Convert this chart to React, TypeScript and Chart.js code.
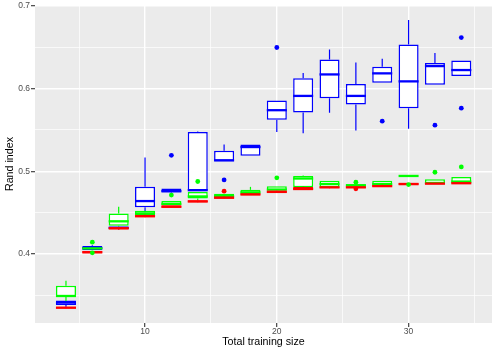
import React, { useEffect, useRef } from "react";
import { Chart, registerables } from "chart.js";

Chart.register(...registerables);

const trainingSizes = [4, 6, 8, 10, 12, 14, 16, 18, 20, 22, 24, 26, 28, 30, 32, 34];

const xTicks = [5, 10, 15, 20, 25, 30, 35];
const xTickLabels = ["", "10", "", "20", "", "30", ""];
const yTicks = [0.35, 0.4, 0.45, 0.5, 0.55, 0.6, 0.65, 0.7];
const yTickLabels = ["", "0.4", "", "0.5", "", "0.6", "", "0.7"];

const blueLow = [0.336, 0.4045, 0.4295, 0.4462, 0.471, 0.4763, 0.5117, 0.5189, 0.5474, 0.5461, 0.5707, 0.5494, 0.6072, 0.5514, 0.6048, 0.6153];
const blueQ1 = [0.3381, 0.4045, 0.4305, 0.4563, 0.4743, 0.4763, 0.5117, 0.5189, 0.5623, 0.5711, 0.5883, 0.5807, 0.6072, 0.5762, 0.6048, 0.6153];
const blueMedian = [0.341, 0.407, 0.4315, 0.4639, 0.4759, 0.4771, 0.5133, 0.5293, 0.5739, 0.5912, 0.6172, 0.5912, 0.6185, 0.6088, 0.6273, 0.6225];
const blueQ3 = [0.3434, 0.4096, 0.433, 0.4811, 0.4792, 0.5474, 0.5249, 0.5325, 0.5855, 0.6125, 0.6353, 0.6056, 0.6265, 0.6534, 0.631, 0.6341];
const blueHigh = [0.3434, 0.4105, 0.4335, 0.5165, 0.4792, 0.548, 0.5325, 0.5325, 0.5855, 0.6189, 0.6474, 0.6317, 0.6361, 0.6831, 0.643, 0.6341];

const greenLow = [0.343, 0.4058, 0.433, 0.4465, 0.4587, 0.465, 0.4678, 0.4723, 0.4771, 0.4807, 0.4807, 0.4813, 0.4828, 0.4943, 0.4847, 0.4852];
const greenQ1 = [0.3482, 0.4058, 0.4341, 0.447, 0.4587, 0.4671, 0.4678, 0.4723, 0.4771, 0.4807, 0.4807, 0.4813, 0.4828, 0.4941, 0.4847, 0.4852];
const greenMedian = [0.349, 0.4066, 0.4394, 0.449, 0.4605, 0.4695, 0.47, 0.4745, 0.4778, 0.4912, 0.4845, 0.483, 0.4845, 0.4943, 0.4858, 0.4875];
const greenQ3 = [0.3614, 0.4075, 0.449, 0.4522, 0.4639, 0.475, 0.4727, 0.4775, 0.4819, 0.4943, 0.4884, 0.4843, 0.4884, 0.4945, 0.4904, 0.4931];
const greenHigh = [0.3675, 0.4075, 0.457, 0.4525, 0.4639, 0.475, 0.4727, 0.4811, 0.4819, 0.4948, 0.4884, 0.4843, 0.4884, 0.4945, 0.4904, 0.4931];

const redLow = [0.3335, 0.4002, 0.429, 0.4442, 0.4555, 0.462, 0.4664, 0.4705, 0.4737, 0.4773, 0.4795, 0.4795, 0.4809, 0.4829, 0.4842, 0.4851];
const redQ1 = [0.3338, 0.4005, 0.4294, 0.4445, 0.4558, 0.4623, 0.4666, 0.4707, 0.4739, 0.4775, 0.4797, 0.4797, 0.4811, 0.4831, 0.4843, 0.4852];
const redMedian = [0.3348, 0.402, 0.431, 0.4455, 0.457, 0.4635, 0.468, 0.472, 0.475, 0.4785, 0.4805, 0.4805, 0.482, 0.4845, 0.485, 0.4855];
const redQ3 = [0.336, 0.4035, 0.4322, 0.4473, 0.4587, 0.465, 0.4695, 0.4731, 0.4767, 0.481, 0.4815, 0.4815, 0.4835, 0.486, 0.486, 0.486];
const redHigh = [0.3362, 0.4036, 0.4324, 0.4475, 0.4589, 0.4652, 0.4697, 0.4733, 0.4769, 0.4812, 0.4816, 0.4816, 0.4836, 0.4861, 0.4861, 0.4861];

const greenOutX = [6, 6, 12, 14, 20, 26, 30, 32, 34];
const greenOutY = [0.4141, 0.4012, 0.4711, 0.4876, 0.492, 0.4867, 0.4839, 0.4988, 0.5052];
const blueOutX = [12, 16, 20, 28, 32, 34, 34];
const blueOutY = [0.5193, 0.4895, 0.6498, 0.5606, 0.5558, 0.6618, 0.5763];
const redOutX = [16, 26];
const redOutY = [0.4759, 0.4787];

const RED = "#FF0000";
const GREEN = "#00FF00";
const BLUE = "#0000FF";
const FONT = "'Liberation Sans', Arial, Helvetica, sans-serif";

function makeStats(low: number[], q1: number[], med: number[], q3: number[], high: number[]) {
  return trainingSizes.map((x, i) => ({ x, low: low[i], q1: q1[i], median: med[i], q3: q3[i], high: high[i] }));
}

function boxDataset(label: string, color: string, stats: any[]) {
  return {
    type: "bar" as const,
    label,
    data: stats.map((s) => ({ x: s.x, y: [s.q1, s.q3] })),
    stats,
    backgroundColor: "#FFFFFF",
    borderColor: color,
    borderWidth: 1.5,
    borderSkipped: false,
    grouped: false,
    categoryPercentage: 1,
    barPercentage: 0.76,
    order: 1,
  };
}

function outlierDataset(label: string, color: string, xs: number[], ys: number[]) {
  return {
    type: "scatter" as const,
    label,
    data: xs.map((x, i) => ({ x, y: ys[i] })),
    pointRadius: 2.4,
    pointBorderWidth: 0,
    pointBackgroundColor: color,
    backgroundColor: color,
    borderColor: color,
    order: 0,
  };
}

const panelPlugin = {
  id: "panelBg",
  beforeDraw(chart: any) {
    const { ctx, chartArea } = chart;
    ctx.save();
    ctx.fillStyle = "#EBEBEB";
    ctx.fillRect(chartArea.left, chartArea.top, chartArea.right - chartArea.left, chartArea.bottom - chartArea.top);
    ctx.restore();
  },
};

const boxPartsPlugin = {
  id: "boxParts",
  beforeDatasetDraw(chart: any, args: any) {
    const ds: any = chart.data.datasets[args.index];
    if (!ds.stats) return;
    const { ctx } = chart;
    const xs = chart.scales.x;
    const ys = chart.scales.y;
    ctx.save();
    ctx.strokeStyle = ds.borderColor;
    ctx.lineWidth = 1.2;
    ds.stats.forEach((s: any) => {
      const px = xs.getPixelForValue(s.x);
      ctx.beginPath();
      ctx.moveTo(px, ys.getPixelForValue(s.q3));
      ctx.lineTo(px, ys.getPixelForValue(s.high));
      ctx.moveTo(px, ys.getPixelForValue(s.q1));
      ctx.lineTo(px, ys.getPixelForValue(s.low));
      ctx.stroke();
    });
    ctx.restore();
  },
  afterDatasetDraw(chart: any, args: any) {
    const ds: any = chart.data.datasets[args.index];
    if (!ds.stats) return;
    const { ctx } = chart;
    const ys = chart.scales.y;
    const els = args.meta.data;
    ctx.save();
    ctx.strokeStyle = ds.borderColor;
    ctx.lineWidth = 2.3;
    ds.stats.forEach((s: any, i: number) => {
      const el = els[i];
      const half = el.width / 2;
      const py = ys.getPixelForValue(s.median);
      ctx.beginPath();
      ctx.moveTo(el.x - half, py);
      ctx.lineTo(el.x + half, py);
      ctx.stroke();
    });
    ctx.restore();
  },
};

export default function App() {
  const canvasRef = useRef<HTMLCanvasElement | null>(null);

  useEffect(() => {
    const canvas = canvasRef.current;
    if (!canvas) return;
    const isMajorX = (v: number) => xTickLabels[xTicks.indexOf(v)] !== "" && xTicks.indexOf(v) >= 0;
    const isMajorY = (v: number) => {
      const i = yTicks.findIndex((t) => Math.abs(t - v) < 1e-9);
      return i >= 0 && yTickLabels[i] !== "";
    };
    const chart = new Chart(canvas, {
      type: "bar",
      data: {
        datasets: [
          boxDataset("red", RED, makeStats(redLow, redQ1, redMedian, redQ3, redHigh)),
          boxDataset("green", GREEN, makeStats(greenLow, greenQ1, greenMedian, greenQ3, greenHigh)),
          boxDataset("blue", BLUE, makeStats(blueLow, blueQ1, blueMedian, blueQ3, blueHigh)),
          outlierDataset("red outliers", RED, redOutX, redOutY),
          outlierDataset("green outliers", GREEN, greenOutX, greenOutY),
          outlierDataset("blue outliers", BLUE, blueOutX, blueOutY),
        ] as any,
      },
      options: {
        animation: false,
        responsive: false,
        maintainAspectRatio: false,
        layout: { padding: { left: 0, right: 6, top: 4, bottom: 0 } },
        plugins: { legend: { display: false }, tooltip: { enabled: false } },
        scales: {
          x: {
            type: "linear",
            min: 1.65,
            max: 36.33,
            offset: false,
            border: { display: false },
            grid: {
              offset: false,
              color: "#FFFFFF",
              lineWidth: (c: any) => (isMajorX(c.tick?.value) ? 1.4 : 0.7),
              tickColor: (c: any) => (isMajorX(c.tick?.value) ? "#333333" : "rgba(0,0,0,0)"),
              tickWidth: 1.1,
              tickLength: 4,
              drawTicks: true,
            },
            ticks: {
              autoSkip: false,
              maxRotation: 0,
              padding: 0,
              color: "#4D4D4D",
              font: { family: FONT, size: 8.5 },
              callback: (v: any) => {
                const i = xTicks.indexOf(Number(v));
                return i >= 0 ? xTickLabels[i] : "";
              },
            },
            title: {
              display: true,
              text: "Total training size",
              color: "#000000",
              font: { family: FONT, size: 10.7 },
              padding: { top: 0, bottom: 6.5 },
            },
            afterBuildTicks: (scale: any) => {
              scale.ticks = xTicks.map((v) => ({ value: v }));
            },
            afterFit: (scale: any) => {
              scale.height = 32;
            },
          },
          y: {
            type: "linear",
            min: 0.3163,
            max: 0.7012,
            border: { display: false },
            grid: {
              color: "#FFFFFF",
              lineWidth: (c: any) => (isMajorY(c.tick?.value) ? 1.4 : 0.7),
              tickColor: (c: any) => (isMajorY(c.tick?.value) ? "#333333" : "rgba(0,0,0,0)"),
              tickWidth: 1.1,
              tickLength: 4,
              drawTicks: true,
            },
            ticks: {
              autoSkip: false,
              padding: 1,
              color: "#4D4D4D",
              font: { family: FONT, size: 8.5, lineHeight: 0.95 },
              callback: (v: any) => {
                const i = yTicks.findIndex((t) => Math.abs(t - Number(v)) < 1e-9);
                return i >= 0 ? yTickLabels[i] : "";
              },
            },
            title: {
              display: true,
              text: "Rand index",
              color: "#000000",
              font: { family: FONT, size: 10.7 },
              padding: { top: 4, bottom: 0 },
            },
            afterBuildTicks: (scale: any) => {
              scale.ticks = yTicks.map((v) => ({ value: v }));
            },
            afterFit: (scale: any) => {
              scale.width = 35;
            },
          },
        },
      } as any,
      plugins: [panelPlugin, boxPartsPlugin],
    });
    return () => chart.destroy();
  }, []);

  return (
    <div style={{ position: "fixed", left: 0, top: 0, width: 498, height: 355, background: "#FFFFFF" }}>
      <canvas ref={canvasRef} width={498} height={355} style={{ display: "block", width: 498, height: 355 }} />
    </div>
  );
}
